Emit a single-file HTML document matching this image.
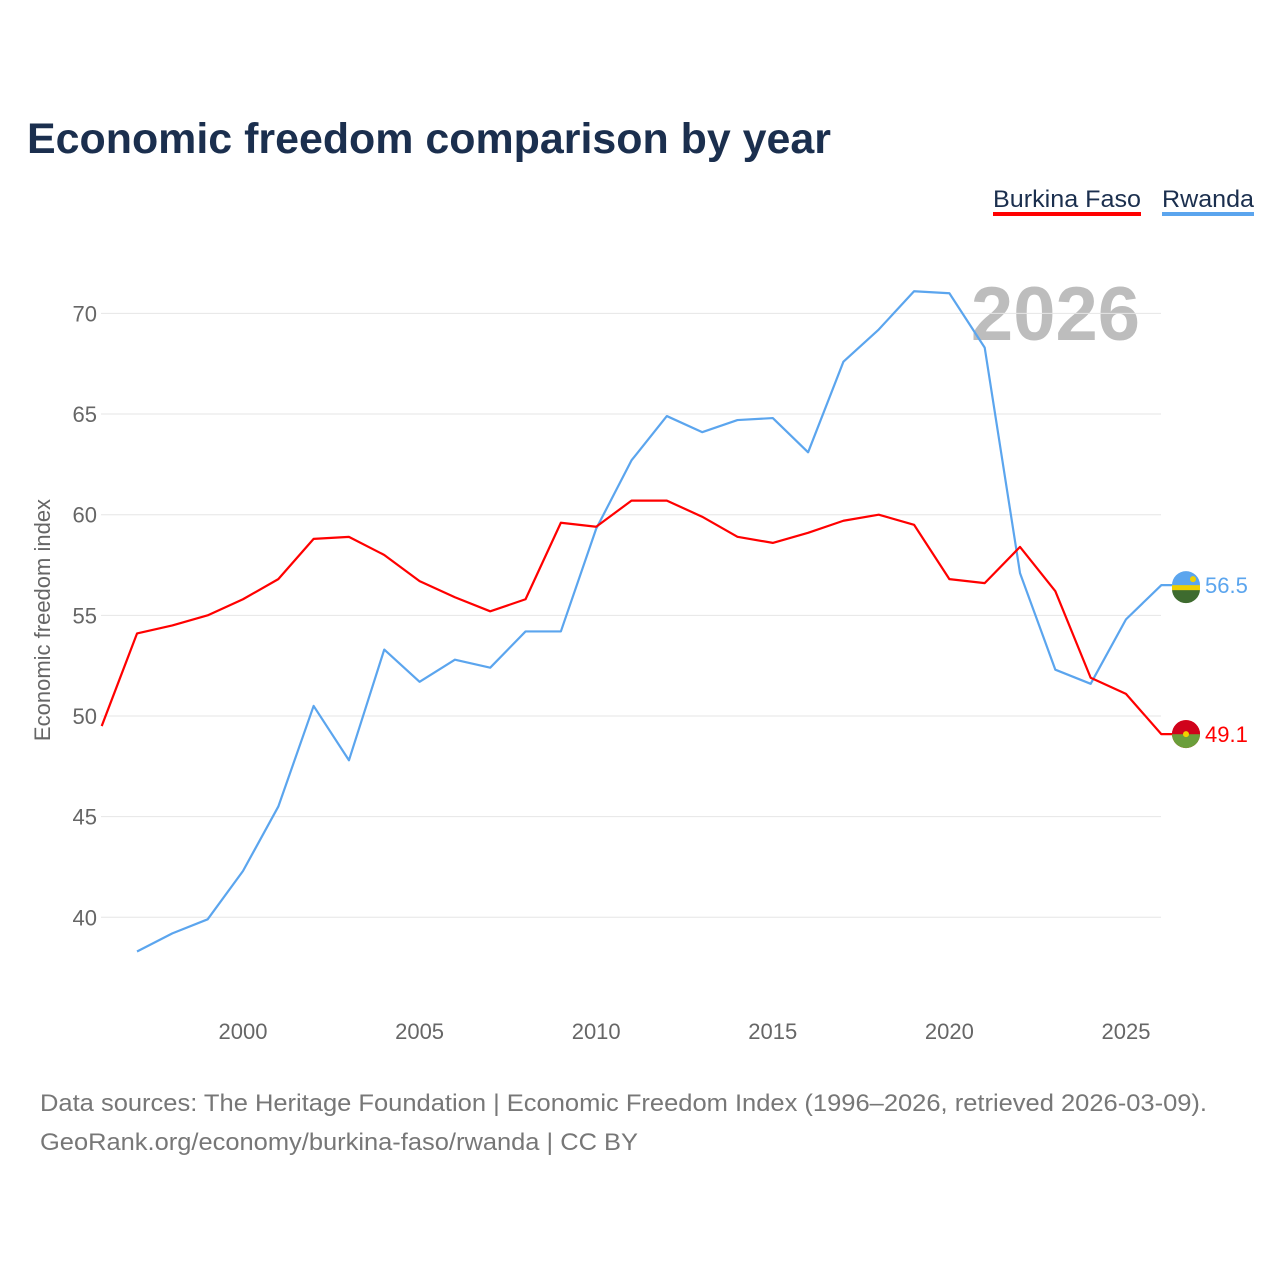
<!DOCTYPE html>
<html><head><meta charset="utf-8"><style>
body{margin:0;background:#fff;font-family:"Liberation Sans",sans-serif}
svg text{font-family:"Liberation Sans",sans-serif}
</style></head><body>
<svg id="chart" width="1280" height="1280" xmlns="http://www.w3.org/2000/svg">
<text x="27" y="153" font-size="43" font-weight="bold" fill="#1b2f4e" textLength="804" lengthAdjust="spacingAndGlyphs">Economic freedom comparison by year</text>
<g><text x="993" y="207" font-size="24" fill="#1b2f4e" textLength="148" lengthAdjust="spacingAndGlyphs">Burkina Faso</text><rect x="993" y="212" width="148" height="4" fill="#ff0000"/></g>
<g><text x="1162" y="207" font-size="24" fill="#1b2f4e" textLength="92" lengthAdjust="spacingAndGlyphs">Rwanda</text><rect x="1162" y="212" width="92" height="4" fill="#5ba5ee"/></g>
<text x="1140" y="340" font-size="76" font-weight="bold" fill="#bdbdbd" text-anchor="end">2026</text>
<g id="grid"></g><g id="xt"></g><g id="lines"></g>
<text transform="translate(50,620) rotate(-90)" font-size="22" fill="#666" text-anchor="middle">Economic freedom index</text>
<text x="40" y="1111" font-size="24" fill="#777" textLength="1167" lengthAdjust="spacingAndGlyphs">Data sources: The Heritage Foundation | Economic Freedom Index (1996–2026, retrieved 2026-03-09).</text>
<text x="40" y="1150" font-size="24" fill="#777" textLength="598" lengthAdjust="spacingAndGlyphs">GeoRank.org/economy/burkina-faso/rwanda | CC BY</text>
</svg>
<script>
const years=[1996,1997,1998,1999,2000,2001,2002,2003,2004,2005,2006,2007,2008,2009,2010,2011,2012,2013,2014,2015,2016,2017,2018,2019,2020,2021,2022,2023,2024,2025,2026];
const burkina=[49.5,54.1,54.5,55.0,55.8,56.8,58.8,58.9,58.0,56.7,55.9,55.2,55.8,59.6,59.4,60.7,60.7,59.9,58.9,58.6,59.1,59.7,60.0,59.5,56.8,56.6,58.4,56.2,51.9,51.1,49.1];
const rwanda=[null,38.3,39.2,39.9,42.3,45.5,50.5,47.8,53.3,51.7,52.8,52.4,54.2,54.2,59.3,62.7,64.9,64.1,64.7,64.8,63.1,67.6,69.2,71.1,71.0,68.3,57.1,52.3,51.6,54.8,56.5];
const yTicks=[40,45,50,55,60,65,70];
const xTicks=[2000,2005,2010,2015,2020,2025];
const NS="http://www.w3.org/2000/svg";
const X=v=>101.7+(v-1996)*35.32;
const Y=v=>716-(v-50)*20.13;
function mk(t,a,p){const e=document.createElementNS(NS,t);for(const k in a)e.setAttribute(k,a[k]);p.appendChild(e);return e;}
const g=document.getElementById('grid');
yTicks.forEach(t=>{
 const l=mk('line',{x1:101,x2:1161,y1:Y(t),y2:Y(t),stroke:'#e6e6e6','stroke-width':1},g);
 
 
 const tx=mk('text',{x:97,y:Y(t)+8,'font-size':22,fill:'#666','text-anchor':'end'},g);
 tx.textContent=t;
 
 
});
const xg=document.getElementById('xt');
xTicks.forEach(t=>{
 const tx=mk('text',{x:X(t),y:1039,'font-size':22,fill:'#666','text-anchor':'middle'},xg);
 tx.textContent=t;
 
 
});
const lg=document.getElementById('lines');
function series(vals,color,name){
 let d='';vals.forEach((v,i)=>{if(v==null)return;d+=(d?'L':'M')+X(years[i])+','+Y(v);});
 const last=vals[vals.length-1];
 d+='L1172,'+Y(last);
 const p=mk('path',{d:d,fill:'none',stroke:color,'stroke-width':2.2,'stroke-linejoin':'round'},lg);
 
 
 const cx=1186,cy=Y(last);
 const c=mk('circle',{cx:cx,cy:cy,r:14,fill:color},lg);
 
 
 const lab=mk('text',{x:1205,y:cy+8,'font-size':22,fill:color},lg);
 lab.textContent=last.toFixed(1);
 
 
 return cy;
}
const cyR=series(rwanda,'#5ba5ee','rwanda');
const cyB=series(burkina,'#ff0000','burkina-faso');
mk('path',{d:`M1172,${cyR+4}A14,14 0 0 0 1200,${cyR+4}Z`,fill:'#3e6b2f'},lg);
mk('rect',{x:1172,y:cyR,width:28,height:5,fill:'#f0d000'},lg);
mk('circle',{cx:1193,cy:cyR-6,r:3,fill:'#f0d000'},lg);
mk('path',{d:`M1172,${cyB}A14,14 0 0 0 1200,${cyB}Z`,fill:'#6a9e3a'},lg);
mk('path',{d:`M1172,${cyB}A14,14 0 0 1 1200,${cyB}Z`,fill:'#d0021b'},lg);
mk('circle',{cx:1186,cy:cyB,r:3,fill:'#f0d000'},lg);
</script>
</body></html>
